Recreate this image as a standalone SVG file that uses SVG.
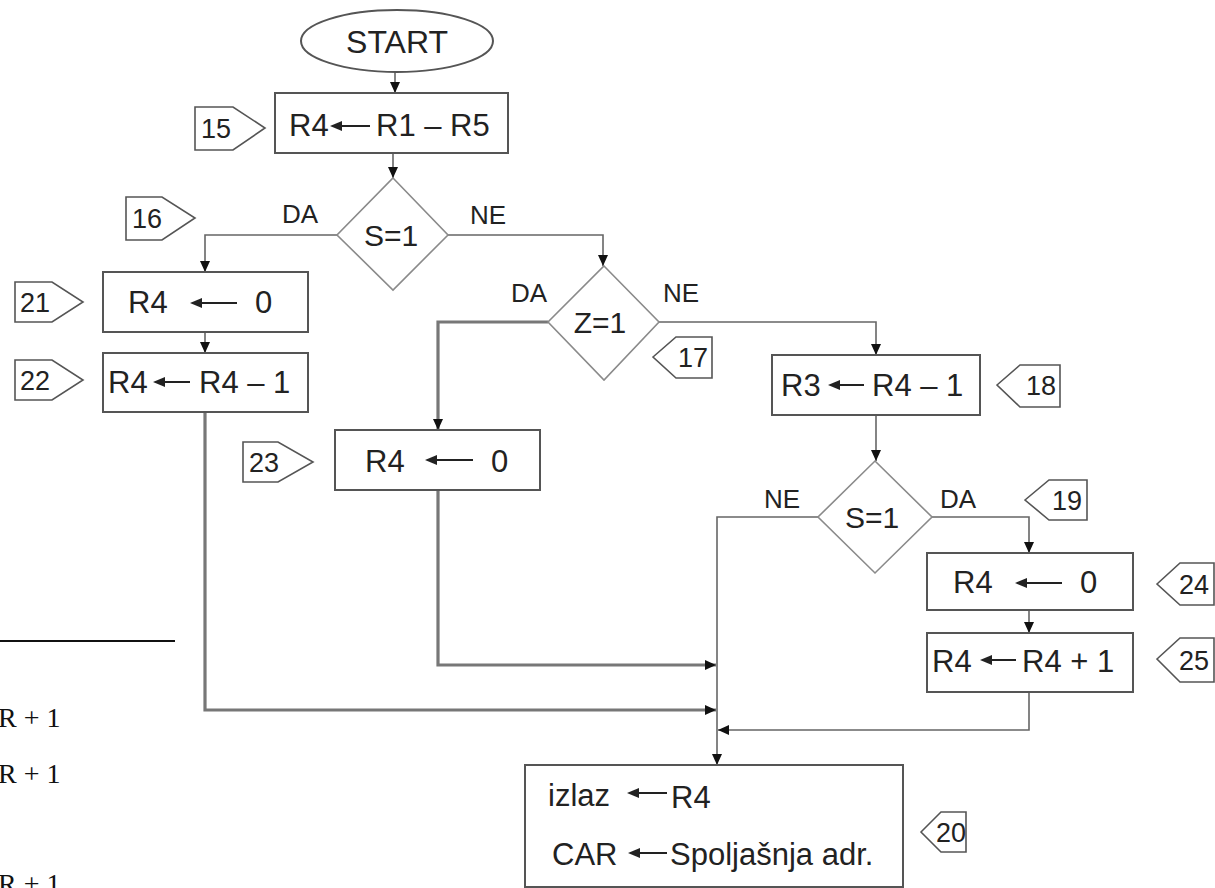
<svg xmlns="http://www.w3.org/2000/svg" width="1215" height="888" viewBox="0 0 1215 888">
<style>
.bg{fill:#fff}
.box{fill:#fff;stroke:#555;stroke-width:2}
.dia{fill:#fff;stroke:#8a8a8a;stroke-width:1.6}
.lbl{fill:#fff;stroke:#555;stroke-width:1.6}
.t{font-family:"Liberation Sans",Arial,sans-serif;font-size:31px;fill:#222}
.d{font-family:"Liberation Sans",Arial,sans-serif;font-size:30px;fill:#222;text-anchor:middle}
.n{font-family:"Liberation Sans",Arial,sans-serif;font-size:27px;fill:#222}
.yn{font-family:"Liberation Sans",Arial,sans-serif;font-size:26px;fill:#222}
.c{fill:none;stroke:#666;stroke-width:1.6}
.ck{fill:none;stroke:#777;stroke-width:3.2}
.ta{fill:none;stroke:#222;stroke-width:2}
.ah{fill:#222;stroke:none}
.s{font-family:"Liberation Serif","Times New Roman",serif;font-size:28px;fill:#111}
</style>
<defs>
<marker id="arr" markerUnits="userSpaceOnUse" markerWidth="12" markerHeight="10" refX="11" refY="5" orient="auto">
<path d="M0,0 L11,5 L0,10 Z" fill="#111"/>
</marker>
</defs>
<rect class="bg" x="0" y="0" width="1215" height="888"/>

<g id="connectors">
<path class="c" d="M395,72 V93" marker-end="url(#arr)"/>
<path class="c" d="M393,153 V178" marker-end="url(#arr)"/>
<path class="c" d="M337,235 H205 V272" marker-end="url(#arr)"/>
<path class="c" d="M448,235 H603 V266" marker-end="url(#arr)"/>
<path class="c" d="M205,332 V353" marker-end="url(#arr)"/>
<path class="ck" d="M548,322 H438 V430" marker-end="url(#arr)"/>
<path class="c" d="M659,322 H876 V355" marker-end="url(#arr)"/>
<path class="c" d="M876,415 V461" marker-end="url(#arr)"/>
<path class="c" d="M818,517 H717 V765" marker-end="url(#arr)"/>
<path class="c" d="M932,517 H1029 V553" marker-end="url(#arr)"/>
<path class="c" d="M1029,610 V633" marker-end="url(#arr)"/>
<path class="c" d="M1029,692 V730 H718" marker-end="url(#arr)"/>
<path class="ck" d="M438,490 V665 H716" marker-end="url(#arr)"/>
<path class="ck" d="M205,412 V710 H716" marker-end="url(#arr)"/>
</g>

<g id="start">
<ellipse class="box" cx="397" cy="41" rx="96" ry="31"/>
<text class="d" x="397" y="53" style="font-size:32px">START</text>
</g>

<g id="n15">
<rect class="box" x="275" y="93" width="233" height="60"/>
<text class="t" x="289" y="136">R4</text>
<path class="ta" d="M370,126 H338"/><path class="ah" d="M330,126 L342,121 L342,131 Z"/>
<text class="t" x="376" y="136">R1 – R5</text>
</g>
<g id="l15"><polygon class="lbl" points="195,107 233,107 265,128 233,150 195,150"/><text class="n" x="201" y="138">15</text></g>

<g id="d16">
<polygon class="dia" points="393,178 448,235 393,290 337,235"/>
<text class="d" x="391" y="246">S=1</text>
<text class="yn" x="282" y="223">DA</text>
<text class="yn" x="470" y="224">NE</text>
</g>
<g id="l16"><polygon class="lbl" points="126,197 162,197 195,218 162,240 126,240"/><text class="n" x="132" y="228">16</text></g>

<g id="n21">
<rect class="box" x="103" y="272" width="205" height="60"/>
<text class="t" x="128" y="313">R4</text>
<path class="ta" d="M237,303 H198"/><path class="ah" d="M190,303 L202,298 L202,308 Z"/>
<text class="t" x="255" y="313">0</text>
</g>
<g id="l21"><polygon class="lbl" points="15,282 52,282 83,302 52,322 15,322"/><text class="n" x="20" y="312">21</text></g>

<g id="n22">
<rect class="box" x="103" y="353" width="205" height="59"/>
<text class="t" x="108" y="393">R4</text>
<path class="ta" d="M190,382 H161"/><path class="ah" d="M153,382 L165,377 L165,387 Z"/>
<text class="t" x="199" y="393">R4 – 1</text>
</g>
<g id="l22"><polygon class="lbl" points="15,360 52,360 83,380 52,400 15,400"/><text class="n" x="20" y="390">22</text></g>

<g id="d17">
<polygon class="dia" points="604,266 659,322 604,380 548,322"/>
<text class="d" x="600" y="333">Z=1</text>
<text class="yn" x="511" y="302">DA</text>
<text class="yn" x="663" y="302">NE</text>
</g>
<g id="l17"><polygon class="lbl" points="653,357 676,337 712,337 712,378 676,378"/><text class="n" x="678" y="367">17</text></g>

<g id="n23">
<rect class="box" x="335" y="430" width="205" height="60"/>
<text class="t" x="365" y="472">R4</text>
<path class="ta" d="M473,460 H433"/><path class="ah" d="M425,460 L437,455 L437,465 Z"/>
<text class="t" x="491" y="472">0</text>
</g>
<g id="l23"><polygon class="lbl" points="243,442 278,442 313,462 278,482 243,482"/><text class="n" x="249" y="472">23</text></g>

<g id="n18">
<rect class="box" x="772" y="355" width="208" height="60"/>
<text class="t" x="781" y="396">R3</text>
<path class="ta" d="M864,385 H836"/><path class="ah" d="M828,385 L840,380 L840,390 Z"/>
<text class="t" x="872" y="396">R4 – 1</text>
</g>
<g id="l18"><polygon class="lbl" points="997,385 1020,365 1060,365 1060,407 1020,407"/><text class="n" x="1026" y="395">18</text></g>

<g id="d19">
<polygon class="dia" points="875,461 932,517 875,573 818,517"/>
<text class="d" x="872" y="528">S=1</text>
<text class="yn" x="764" y="508">NE</text>
<text class="yn" x="940" y="508">DA</text>
</g>
<g id="l19"><polygon class="lbl" points="1025,500 1049,480 1087,480 1087,520 1049,520"/><text class="n" x="1052" y="510">19</text></g>

<g id="n24">
<rect class="box" x="927" y="553" width="206" height="57"/>
<text class="t" x="953" y="593">R4</text>
<path class="ta" d="M1062,583 H1023"/><path class="ah" d="M1015,583 L1027,578 L1027,588 Z"/>
<text class="t" x="1080" y="593">0</text>
</g>
<g id="l24"><polygon class="lbl" points="1157,584 1180,563 1214,563 1214,605 1180,605"/><text class="n" x="1179" y="594">24</text></g>

<g id="n25">
<rect class="box" x="927" y="633" width="206" height="59"/>
<text class="t" x="932" y="672">R4</text>
<path class="ta" d="M1016,660 H988"/><path class="ah" d="M980,660 L992,655 L992,665 Z"/>
<text class="t" x="1022" y="672">R4 + 1</text>
</g>
<g id="l25"><polygon class="lbl" points="1157,659 1180,638 1214,638 1214,682 1180,682"/><text class="n" x="1179" y="670">25</text></g>

<g id="n20">
<rect class="box" x="525" y="765" width="378" height="122"/>
<text class="t" x="548" y="806">izlaz</text>
<path class="ta" d="M667,793 H635"/><path class="ah" d="M627,793 L639,788 L639,798 Z"/>
<text class="t" x="671" y="808">R4</text>
<text class="t" x="552" y="865">CAR</text>
<path class="ta" d="M667,853 H636"/><path class="ah" d="M628,853 L640,848 L640,858 Z"/>
<text class="t" x="670" y="865">Spoljašnja adr.</text>
</g>
<g id="l20"><polygon class="lbl" points="921,832 941,812 966,812 966,852 941,852"/><text class="n" x="936" y="842">20</text></g>

<g id="margin">
<line x1="0" y1="641" x2="175" y2="641" stroke="#111" stroke-width="2"/>
<text class="s" x="-2" y="727">R + 1</text>
<text class="s" x="-2" y="783">R + 1</text>
<text class="s" x="-2" y="893">R + 1</text>
</g>
</svg>
